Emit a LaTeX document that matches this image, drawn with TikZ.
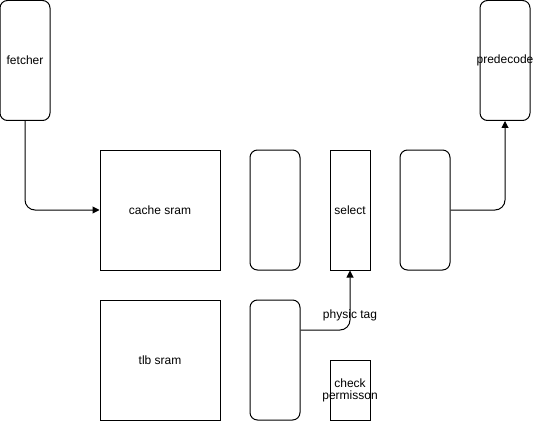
\documentclass[tikz,border=0pt]{standalone}
\usepackage{fontspec}
\setmainfont{Liberation Sans}
\usetikzlibrary{arrows.meta}
\begin{document}
\begin{tikzpicture}[x=1pt,y=-1pt,
  every node/.style={font=\fontsize{12}{14}\selectfont},
  blk/.style={draw,line width=1pt,inner sep=0pt,align=center},
  rblk/.style={blk,rounded corners=7.5pt},
  conn/.style={line width=1pt,rounded corners=10pt,-{Triangle[length=7pt,width=7pt]}}]
\useasboundingbox (0,0) rectangle (534,422);
\node[rblk,minimum width=50pt,minimum height=120pt] (fetcher) at (25,60.5) {fetcher};
\node[rblk,minimum width=50pt,minimum height=120pt] (predecode) at (505,60.5) {\makebox[0pt]{predecode}};
\node[blk,minimum width=120pt,minimum height=120pt] (cache) at (160,210) {cache sram};
\node[rblk,minimum width=50pt,minimum height=120pt] (b2) at (275,210) {};
\node[blk,minimum width=40pt,minimum height=120pt] (select) at (350,210) {select};
\node[rblk,minimum width=50pt,minimum height=120pt] (b4) at (425,210) {};
\node[blk,minimum width=120pt,minimum height=120pt] (tlb) at (160,360) {tlb sram};
\node[rblk,minimum width=50pt,minimum height=120pt] (b5) at (275,360) {};
\node[blk,minimum width=40pt,minimum height=60pt] (check) at (350,390) {\makebox[0pt]{check}\\[-2pt]\makebox[0pt]{permisson}};
\draw[conn] (fetcher.south) |- (cache.west);
\draw[conn] (b4.east) -| (predecode.south);
\draw[conn] (b5.east |- 0,330) -| (select.south);
\node (lbl) at (350,315) {physic tag};
\end{tikzpicture}
\end{document}
